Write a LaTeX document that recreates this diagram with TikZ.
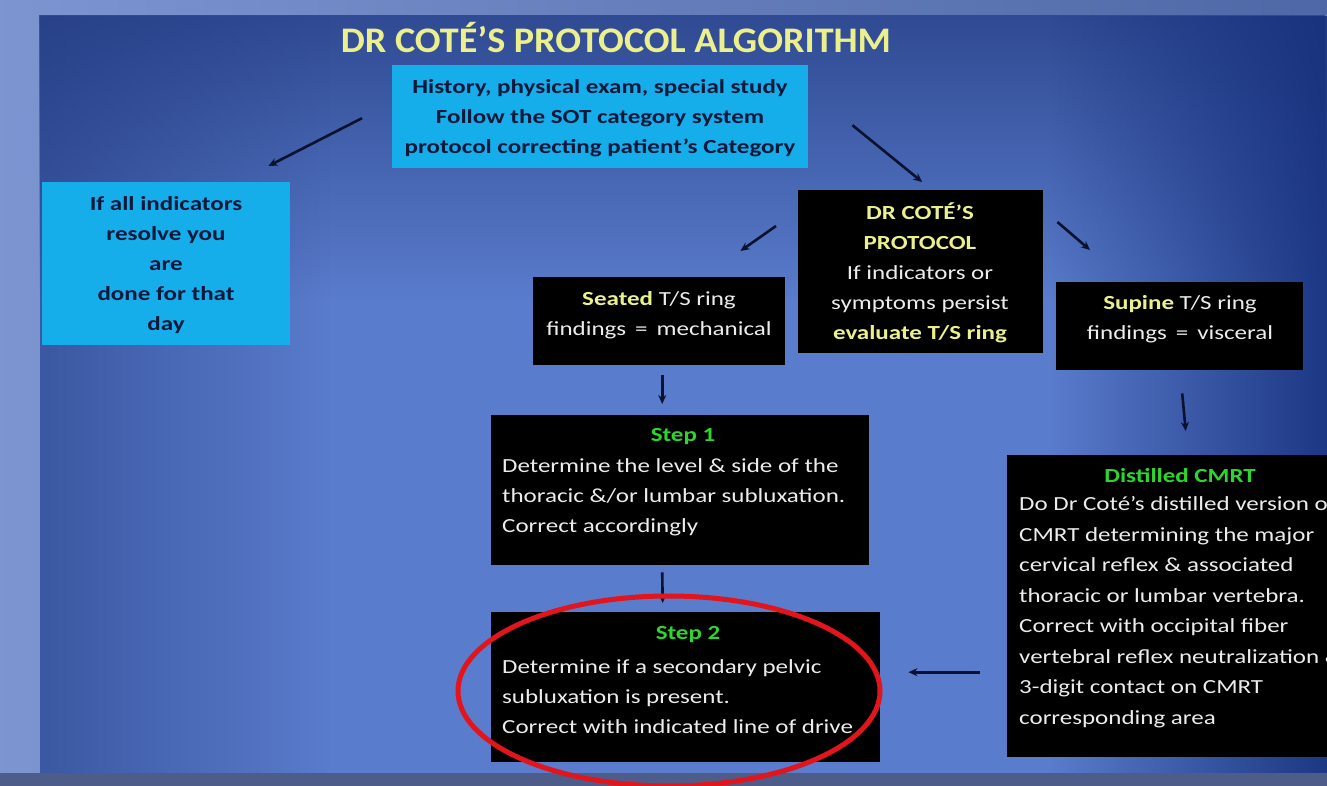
\documentclass[tikz,border=0pt]{standalone}
\usepackage{fontspec}
\setmainfont{Carlito}[FakeStretch=1.25]
\newfontfamily\titlefont{Carlito}[FakeStretch=1.06]
\usetikzlibrary{arrows.meta,fadings,calc}
\definecolor{outerbg}{RGB}{92,122,196}
\definecolor{bandbg}{RGB}{78,92,138}
\definecolor{panelM}{RGB}{90,124,204}
\definecolor{panelR}{RGB}{22,48,124}
\definecolor{panelTop}{RGB}{34,58,128}
\definecolor{cyanbg}{RGB}{22,174,234}
\definecolor{navytxt}{RGB}{14,24,58}
\definecolor{yel}{RGB}{236,240,140}
\definecolor{grn}{RGB}{44,214,44}
\definecolor{wht}{RGB}{236,236,236}
\definecolor{arrowc}{RGB}{10,18,48}
\definecolor{ringred}{RGB}{226,20,28}
\begin{document}
\begin{tikzpicture}[x=1pt,y=-1pt,
  cyanbox/.style={fill=cyanbg,draw=none,inner sep=0pt,anchor=north west},
  blackbox/.style={fill=black,draw=none,inner sep=0pt,anchor=north west},
  cyantext/.style={text=navytxt,font=\bfseries\fontsize{20}{30}\selectfont,align=center,inner sep=0pt},
  bodytext/.style={text=wht,font=\fontsize{20}{30}\selectfont,inner sep=0pt},
  steptitle/.style={text=grn,font=\bfseries\fontsize{20}{24}\selectfont,inner sep=0pt},
  arr/.style={draw=arrowc,line width=2.6pt,-{Stealth[length=9pt,width=8pt]}}
]
\useasboundingbox (0,0) rectangle (1327,786);
\clip (0,0) rectangle (1327,786);
% backgrounds
\shade[left color=outerbg!80!white, right color=outerbg!85!black] (0,0) rectangle (1327,786);
\fill[bandbg] (0,773) rectangle (1327,786);
\fill[panelM] (40,15) rectangle (1327,773);
\fill[panelTop, path fading=south, fill opacity=0.75] (40,15) rectangle (1327,300);
\fill[panelTop, path fading=east, fill opacity=0.55] (40,15) rectangle (330,773);
\fill[panelR, path fading=west, fill opacity=0.9] (1050,15) rectangle (1327,773);
% title
\node[text=yel,font=\titlefont\bfseries\fontsize{36}{36}\selectfont,inner sep=0pt] (title) at (616,38) {DR COTÉ’S PROTOCOL ALGORITHM};
% boxes
\node[cyanbox,minimum width=416pt,minimum height=103pt] (top) at (392,65) {};
\node[cyanbox,minimum width=248pt,minimum height=163pt] (left) at (42,182) {};
\node[blackbox,minimum width=245pt,minimum height=163pt] (dr) at (798,190) {};
\node[blackbox,minimum width=252pt,minimum height=88pt] (seat) at (533,277) {};
\node[blackbox,minimum width=247pt,minimum height=88pt] (sup) at (1056,282) {};
\node[blackbox,minimum width=378pt,minimum height=150pt] (s1) at (491,415) {};
\node[blackbox,minimum width=389pt,minimum height=150pt] (s2) at (491,612) {};
\node[blackbox,minimum width=340pt,minimum height=302pt] (cm) at (1007,455) {};
% texts
\node[cyantext] (toptxt) at (600,118) {History, physical exam, special study\\Follow the SOT category system\\protocol correcting patient’s Category};
\node[cyantext] (lefttxt) at (166,265) {If all indicators\\resolve you\\are\\done for that\\day};
\node[bodytext,align=center] (drtxt) at (920,273) {\textcolor{yel}{\bfseries DR COTÉ’S}\\\textcolor{yel}{\bfseries PROTOCOL}\\If indicators or\\symptoms persist\\\textcolor{yel}{\bfseries evaluate T/S ring}};
\node[bodytext,align=center] (seattxt) at (659,315) {\textcolor{yel}{\bfseries Seated} T/S ring\\findings \,=\, mechanical};
\node[bodytext,align=center] (suptxt) at (1180,319) {\textcolor{yel}{\bfseries Supine} T/S ring\\findings \,=\, visceral};
\node[steptitle] (s1t) at (683,437) {Step 1};
\node[bodytext,align=left,anchor=west] (s1txt) at (502,497) {Determine the level \& side of the\\thoracic \&/or lumbar subluxation.\\Correct accordingly};
\node[steptitle] (s2t) at (688,635) {Step 2};
\node[bodytext,align=left,anchor=west] (s2txt) at (502,697) {Determine if a secondary pelvic\\subluxation is present.\\Correct with indicated line of drive};
\node[steptitle] (cmt) at (1180,476) {Distilled CMRT};
\node[bodytext,align=left,anchor=west,font=\fontsize{20}{30.5}\selectfont] (cmtxt) at (1019,612) {Do Dr Coté’s distilled version of\\CMRT determining the major\\cervical reflex \& associated\\thoracic or lumbar vertebra.\\Correct with occipital fiber\\vertebral reflex neutralization \&\\3-digit contact on CMRT\\corresponding area};
% arrows
\draw[arr] ($(top.west)+(-30,1.5)$) -- ($(left.north east)+(-22,-16)$);
\draw[arr] ($(top.east)+(44,8.5)$) -- ($(dr.north)+(1.5,-8)$);
\draw[arr] ($(dr.north west)+(-22,36)$) -- ($(seat.north east)+(-45,-26)$);
\draw[arr] ($(dr.north east)+(14,32)$) -- ($(sup.north west)+(34,-32)$);
\draw[arr] ($(seat.south)+(3,10)$) -- ($(s1.north)+(-18,-11)$);
\draw[arr] ($(s1.south)+(-18,7)$) -- ($(s2.north)+(-23,-9)$);
\draw[arr] ($(sup.south)+(2.5,23)$) -- ($(cm.north)+(8.5,-24)$);
\draw[arr] ($(cm.west)+(-27,66)$) -- ($(s2.east)+(28,-15)$);
% red ring
\draw[ringred,line width=5pt] (669,691) ellipse [x radius=211pt, y radius=95pt];
\end{tikzpicture}
\end{document}
